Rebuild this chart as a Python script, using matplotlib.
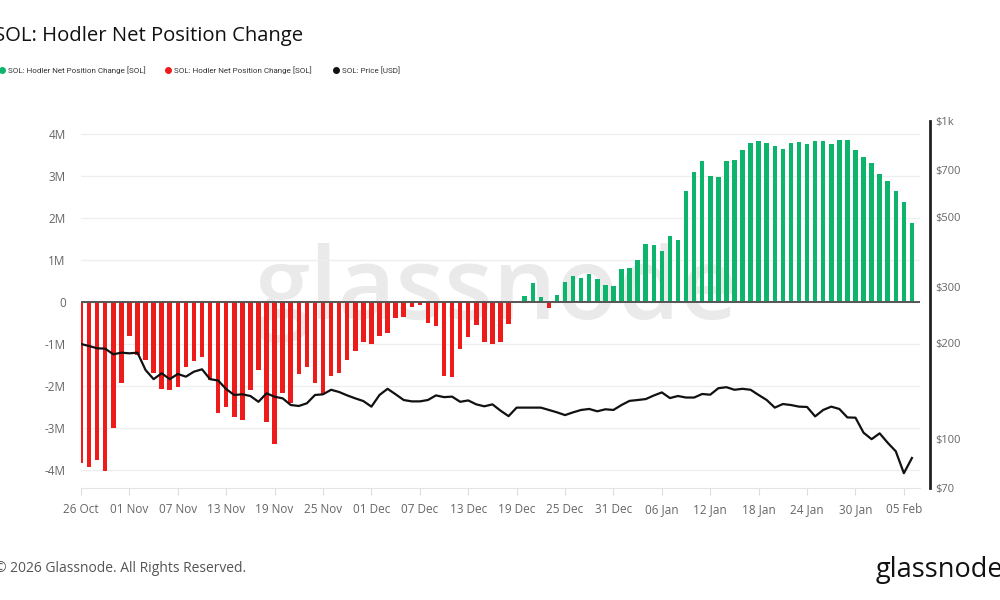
import matplotlib
matplotlib.use('Agg')
import matplotlib.pyplot as plt
import matplotlib.dates as mdates
from matplotlib.lines import Line2D
import numpy as np
import pandas as pd

plt.rcParams['font.family'] = ['Open Sans', 'DejaVu Sans']

# Daily data, 26 Oct 2025 .. 06 Feb 2026
start_date = '2025-10-26'
n_days = 104

# Hodler net position change, millions of SOL
net_change_m = [
    -3.82, -3.91, -3.75, -4.01, -3.00, -1.93, -0.80, -1.25, -1.37, -1.69,
    -2.07, -2.09, -2.02, -1.55, -1.40, -1.29, -1.85, -2.64, -2.49, -2.72,
    -2.79, -2.09, -1.60, -2.86, -3.38, -2.17, -2.40, -1.71, -1.55, -1.93,
    -2.18, -1.75, -1.69, -1.37, -1.15, -0.95, -0.99, -0.79, -0.72, -0.38,
    -0.36, -0.12, -0.06, -0.50, -0.56, -1.75, -1.77, -1.12, -0.83, -0.54,
    -0.94, -1.00, -0.95, -0.52, 0.01, 0.15, 0.45, 0.13, -0.13, 0.17,
    0.48, 0.63, 0.57, 0.67, 0.55, 0.42, 0.40, 0.79, 0.82, 1.02,
    1.38, 1.36, 1.23, 1.59, 1.48, 2.66, 3.10, 3.37, 3.01, 2.98,
    3.37, 3.40, 3.63, 3.80, 3.85, 3.80, 3.72, 3.65, 3.79, 3.82,
    3.78, 3.85, 3.84, 3.76, 3.86, 3.87, 3.63, 3.47, 3.31, 3.05,
    2.88, 2.66, 2.38, 1.88,
]

# SOL price, USD
price_usd = [
    198.7, 195.8, 192.6, 192.1, 184.4, 186.6, 185.7, 186.6, 164.6, 154.0,
    160.7, 154.0, 159.9, 156.8, 162.6, 165.4, 154.0, 152.5, 143.3, 137.3,
    138.0, 136.3, 130.7, 139.0, 135.6, 134.0, 127.7, 126.8, 129.3, 137.3,
    138.0, 142.6, 140.3, 136.9, 134.0, 131.4, 126.2, 137.3, 143.6, 138.0,
    132.4, 131.1, 131.1, 132.4, 136.9, 135.2, 135.7, 130.7, 132.0, 128.3,
    126.5, 128.3, 122.6, 117.8, 125.3, 125.3, 125.3, 125.3, 123.2, 121.1,
    118.7, 121.1, 123.2, 124.1, 122.0, 123.8, 123.2, 127.7, 131.6, 132.4,
    133.3, 136.8, 139.9, 134.3, 136.3, 134.8, 134.8, 138.3, 137.6, 144.2,
    145.3, 142.6, 143.6, 142.6, 137.3, 132.4, 125.3, 128.6, 127.7, 126.2,
    125.9, 117.6, 123.2, 126.2, 124.1, 116.7, 116.5, 104.5, 99.7, 104.0,
    97.1, 91.3, 77.9, 87.0,
]

left_ticks = [-4e6, -3e6, -2e6, -1e6, 0, 1e6, 2e6, 3e6, 4e6]
left_labels = ['-4M', '-3M', '-2M', '-1M', '0', '1M', '2M', '3M', '4M']
right_ticks = [70, 100, 200, 300, 500, 700, 1000]
right_labels = ['$70', '$100', '$200', '$300', '$500', '$700', '$1k']

green = '#0cb46c'
red = '#ee1b1b'

dates = pd.date_range(start_date, periods=n_days, freq='D')
values = np.array(net_change_m) * 1e6
colors = [green if v >= 0 else red for v in values]

fig = plt.figure(figsize=(10, 6), dpi=100)
ax = fig.add_axes([0.081, 0.1867, 0.839, 0.6117])

# watermark
ax.text(0.496, 0.53, 'glassnode', transform=ax.transAxes, ha='center', va='center',
        fontsize=72, color='#eaeaea', fontweight='semibold', zorder=0)

ax.bar(dates, values, width=0.56, color=colors, zorder=2)
ax.axhline(0, color='#555555', lw=1.4, zorder=3)

ax.set_xlim(dates[0], dates[0] + pd.Timedelta(days=104))
ax.set_ylim(-4.42e6, 4.32e6)
ax.set_yticks(left_ticks)
ax.set_yticklabels(left_labels)
ax.set_xticks(dates[::6])
ax.xaxis.set_major_formatter(mdates.DateFormatter('%d %b'))
ax.grid(axis='y', color='#eeeeee', lw=0.9, zorder=0)
ax.set_axisbelow(True)
for s in ['top', 'left', 'right']:
    ax.spines[s].set_visible(False)
ax.spines['bottom'].set_color('#e4e4e4')
ax.tick_params(axis='x', length=5, color='#dddddd', labelcolor='#666666',
               labelsize=8.5, pad=6)
ax.tick_params(axis='y', length=0, labelcolor='#666666', labelsize=8.5, pad=11)

# price on log axis
ax2 = ax.twinx()
ax2.plot(dates, price_usd, color='#111111', lw=1.6, zorder=4)
ax2.set_yscale('log')
ax2.set_ylim(70, 1000)
ax2.set_yticks(right_ticks)
ax2.set_yticklabels(right_labels)
ax2.yaxis.set_minor_locator(matplotlib.ticker.NullLocator())
for s in ['top', 'left', 'bottom']:
    ax2.spines[s].set_visible(False)
ax2.spines['right'].set_position(('outward', 7))
ax2.spines['right'].set_color('#222222')
ax2.spines['right'].set_linewidth(2)
ax2.tick_params(axis='y', length=0, labelcolor='#666666', labelsize=8, pad=4)

# title and legend
fig.text(-0.006, 0.94, 'SOL: Hodler Net Position Change', fontsize=14.6,
         color='#111111', va='center')
legend_items = [(0.002, green, 'SOL: Hodler Net Position Change [SOL]'),
                (0.168, red, 'SOL: Hodler Net Position Change [SOL]'),
                (0.336, '#111111', 'SOL: Price [USD]')]
for x, c, label in legend_items:
    fig.add_artist(Line2D([x], [0.883], marker='o', markersize=4, color=c,
                          transform=fig.transFigure))
    fig.text(x + 0.006, 0.883, label, fontsize=5.8, color='#333333', va='center',
             family=['Roboto', 'DejaVu Sans'])

# footer
fig.text(-0.005, 0.053, '\u00a9 2026 Glassnode. All Rights Reserved.', fontsize=10,
         color='#555555', va='center')
fig.text(1.003, 0.05, 'glassnode', fontsize=19.5, color='#111111', ha='right', va='center')

fig.savefig('out.png', dpi=100)
